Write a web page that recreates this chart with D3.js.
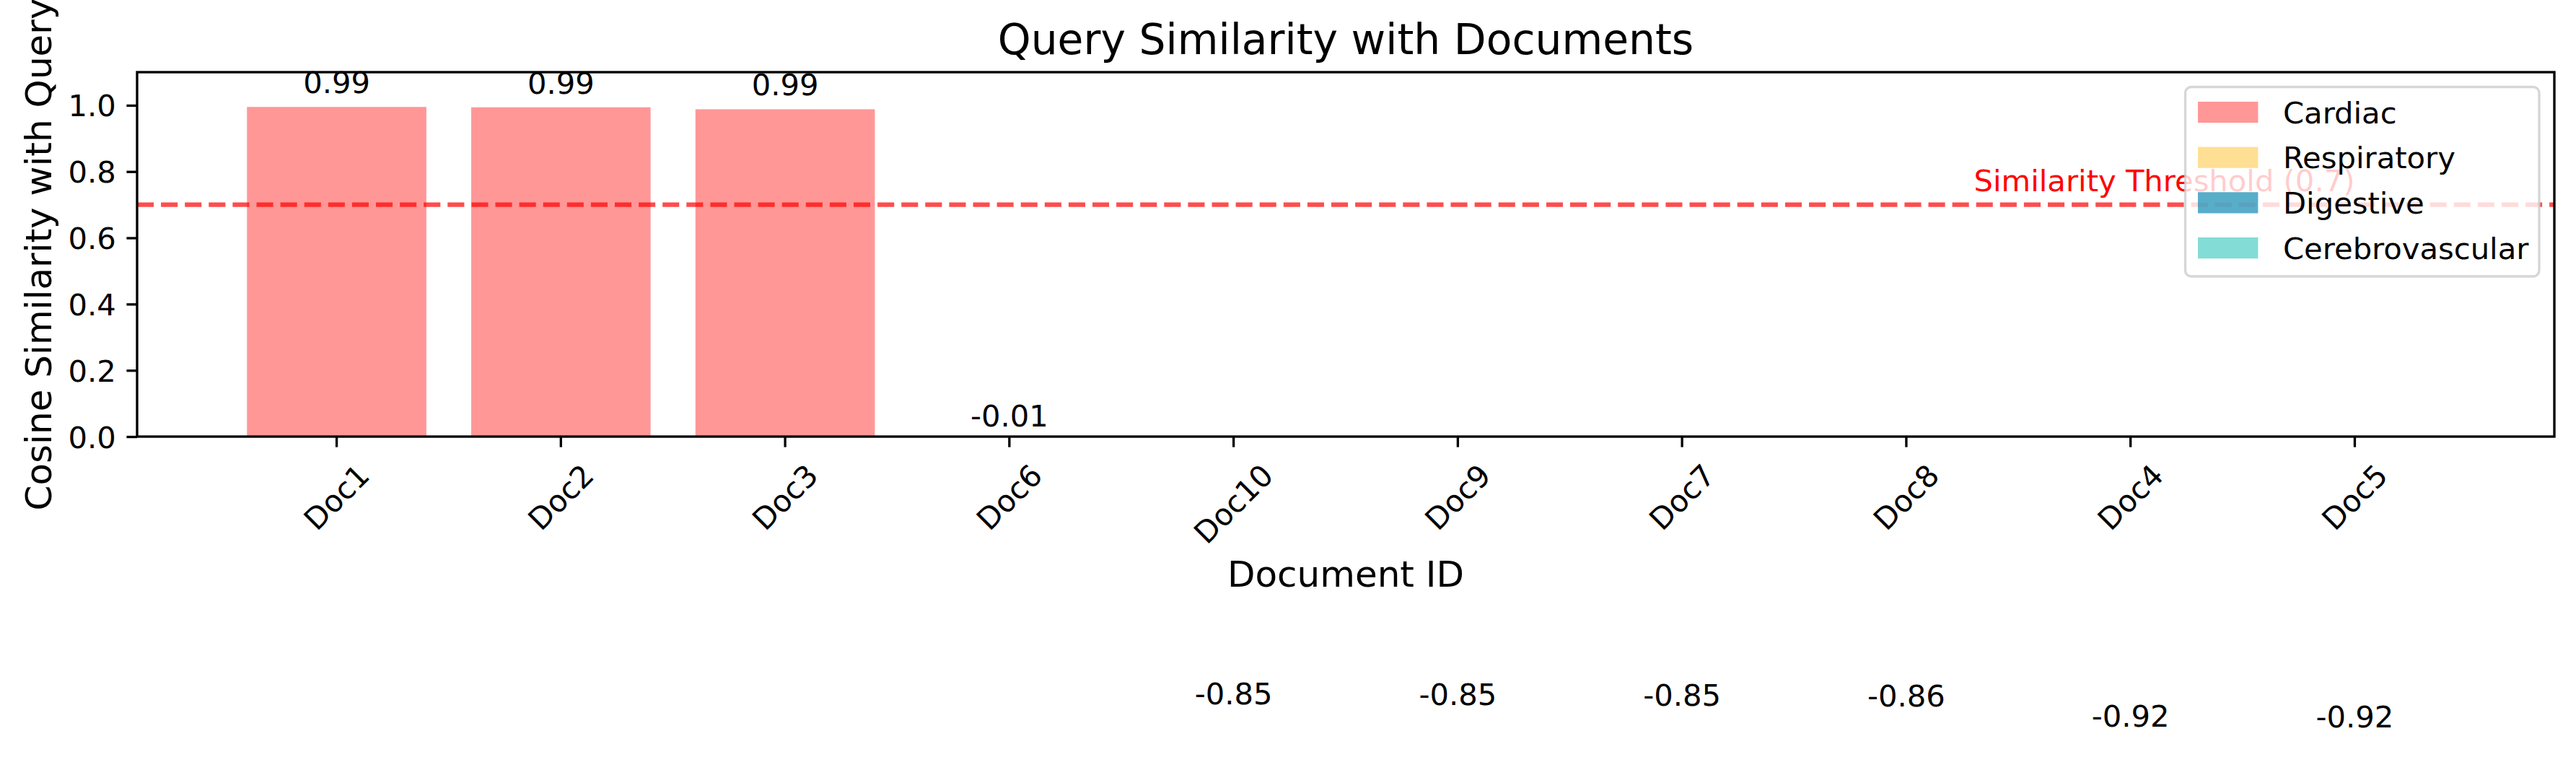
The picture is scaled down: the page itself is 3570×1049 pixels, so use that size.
<!DOCTYPE html>
<html>
<head>
<meta charset="utf-8">
<script src="https://cdn.jsdelivr.net/npm/d3@7"></script>
<style>
  html, body { margin: 0; padding: 0; background: #ffffff; }
  svg { display: block; }
  text { font-family: "DejaVu Sans", sans-serif; }
</style>
</head>
<body>
<svg id="chart" width="3570" height="1049"></svg>
<script>
// ---- data ----
const docs = ["Doc1", "Doc2", "Doc3", "Doc6", "Doc10", "Doc9", "Doc7", "Doc8", "Doc4", "Doc5"];
const similarity = [0.995, 0.994, 0.988, -0.012, -0.849, -0.851, -0.853, -0.856, -0.918, -0.920];
const docCategory = ["Cardiac", "Cardiac", "Cardiac", "Digestive", "Cerebrovascular", "Cerebrovascular", "Digestive", "Cerebrovascular", "Respiratory", "Respiratory"];
const legendCategories = ["Cardiac", "Respiratory", "Digestive", "Cerebrovascular"];
const legendColors = ["#FF6B6B", "#FFD166", "#118AB2", "#4ECDC4"];
const yTicks = [0.0, 0.2, 0.4, 0.6, 0.8, 1.0];
const threshold = 0.7;
const thresholdLabel = "Similarity Threshold (0.7)";
const titleText = "Query Similarity with Documents";
const xLabelText = "Document ID";
const yLabelText = "Cosine Similarity with Query";

(function () {
// ---- layout ----
const W = 3570, H = 1049;
const pL = 190, pR = 3540, pT = 100, pB = 605;
const fs = 41.7;          // 10pt at 300dpi
const tickLen = 14.6, tickPad = 14.6, lw = 3.33;

const svg = d3.select("#chart");
svg.append("rect").attr("width", W).attr("height", H).attr("fill", "#fff");

const x = d3.scaleBand().domain(docs).range([pL, pR]).paddingInner(0.2).paddingOuter(0.49);
const y = d3.scaleLinear().domain([0, 1.1]).range([pB, pT]);
const color = d3.scaleOrdinal().domain(legendCategories).range(legendColors);

const defs = svg.append("defs");
defs.append("clipPath").attr("id", "axclip")
  .append("rect").attr("x", pL).attr("y", pT).attr("width", pR - pL).attr("height", pB - pT);

// bars
const rows = docs.map((d, i) => ({ doc: d, v: similarity[i], cat: docCategory[i] }));
svg.append("g").attr("clip-path", "url(#axclip)")
  .selectAll("rect").data(rows).join("rect")
  .attr("x", d => x(d.doc))
  .attr("width", x.bandwidth())
  .attr("y", d => Math.min(y(d.v), y(0)))
  .attr("height", d => Math.abs(y(d.v) - y(0)))
  .attr("fill", d => color(d.cat))
  .attr("fill-opacity", 0.7);

// threshold line
svg.append("line")
  .attr("x1", pL).attr("x2", pR)
  .attr("y1", y(threshold)).attr("y2", y(threshold))
  .attr("stroke", "red").attr("stroke-opacity", 0.7)
  .attr("stroke-width", 6.25).attr("stroke-dasharray", "23.1,10");

// threshold text (at x = last doc center, right aligned)
const lastCenter = x(docs[docs.length - 1]) + x.bandwidth() / 2;
svg.append("text")
  .attr("x", lastCenter)
  .attr("y", y(threshold + 0.02) - 0.236 * fs)
  .attr("text-anchor", "end")
  .attr("font-size", fs)
  .attr("fill", "red")
  .text(thresholdLabel);

// value labels
svg.append("g").selectAll("text").data(rows).join("text")
  .attr("x", d => x(d.doc) + x.bandwidth() / 2)
  .attr("y", d => y(d.v + 0.02) - 0.236 * fs)
  .attr("text-anchor", "middle")
  .attr("font-size", fs)
  .attr("fill", "#000")
  .text(d => d3.format(".2f")(d.v).replace("\u2212", "-"));

// y axis
const yAxis = svg.append("g").attr("transform", `translate(${pL},0)`)
  .call(d3.axisLeft(y).tickValues(yTicks).tickFormat(d3.format(".1f")).tickSize(tickLen).tickPadding(tickPad));
yAxis.select(".domain").remove();
yAxis.selectAll(".tick line").attr("stroke", "#000").attr("stroke-width", lw);
yAxis.selectAll(".tick text").attr("font-size", fs).attr("font-family", "DejaVu Sans").attr("fill", "#000").attr("dy", "0.36em");

// x axis
const xAxis = svg.append("g").attr("transform", `translate(0,${pB})`)
  .call(d3.axisBottom(x).tickSize(tickLen).tickFormat(""));
xAxis.select(".domain").remove();
xAxis.selectAll(".tick line").attr("stroke", "#000").attr("stroke-width", lw);

// rotated x tick labels (45deg, bbox centered on tick)
const xlab = svg.append("g");
docs.forEach(d => {
  const t = xlab.append("text")
    .attr("font-size", fs)
    .attr("text-anchor", "middle")
    .attr("dy", (0.346 * fs).toFixed(2))
    .attr("fill", "#000")
    .text(d);
  const w = t.node().getComputedTextLength();
  const h = 1.164 * fs;
  const rh = (w + h) / Math.SQRT2;
  const cx = x(d) + x.bandwidth() / 2;
  const cy = pB + tickLen + tickPad + rh / 2;
  t.attr("transform", `translate(${cx},${cy}) rotate(-45)`);
});

// spines
svg.append("rect")
  .attr("x", pL).attr("y", pT).attr("width", pR - pL).attr("height", pB - pT)
  .attr("fill", "none").attr("stroke", "#000").attr("stroke-width", lw);

// title
svg.append("text")
  .attr("x", (pL + pR) / 2).attr("y", 75)
  .attr("text-anchor", "middle").attr("font-size", 58.3).attr("fill", "#000")
  .text(titleText);

// x label
svg.append("text")
  .attr("x", (pL + pR) / 2).attr("y", 813)
  .attr("text-anchor", "middle").attr("font-size", 50).attr("fill", "#000")
  .text(xLabelText);

// y label
svg.append("text")
  .attr("transform", `translate(71,${(pT + pB) / 2}) rotate(-90)`)
  .attr("text-anchor", "middle").attr("font-size", 50).attr("fill", "#000")
  .text(yLabelText);

// legend
const lgX = 3028.5, lgY = 120.5, lgW = 490.5, lgH = 262.5;
const lg = svg.append("g");
lg.append("rect")
  .attr("x", lgX).attr("y", lgY).attr("width", lgW).attr("height", lgH)
  .attr("rx", 8.3).attr("ry", 8.3)
  .attr("fill", "#fff").attr("fill-opacity", 0.8)
  .attr("stroke", "#cccccc").attr("stroke-opacity", 0.8).attr("stroke-width", lw);
legendCategories.forEach((c, i) => {
  const cy = 155.5 + i * 62.7;
  lg.append("rect")
    .attr("x", 3046).attr("y", cy - 14.6).attr("width", 83.4).attr("height", 29.2)
    .attr("fill", legendColors[i]).attr("fill-opacity", 0.7);
  lg.append("text")
    .attr("x", 3164).attr("y", cy + 0.36 * fs)
    .attr("font-size", fs).attr("fill", "#000")
    .text(c);
});
})();
</script>
</body>
</html>
